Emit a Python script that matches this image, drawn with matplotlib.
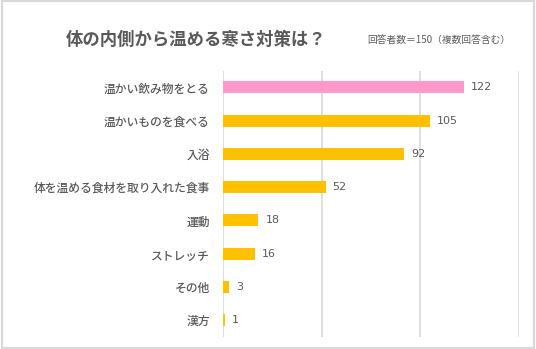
import matplotlib.pyplot as plt
from matplotlib.patches import Rectangle

plt.rcParams['font.family'] = ['Noto Sans CJK JP', 'DejaVu Sans']

categories = ['温かい飲み物をとる', '温かいものを食べる', '入浴', '体を温める食材を取り入れた食事',
              '運動', 'ストレッチ', 'その他', '漢方']
counts = [122, 105, 92, 52, 18, 16, 3, 1]
bar_colors = ['#FF99CC'] + ['#FFC000'] * 7

title = '体の内側から温める寒さ対策は？'
note = '回答者数＝150（複数回答含む）'
text_gray = '#595959'

fig = plt.figure(figsize=(5.36, 3.49), dpi=100)
ax = fig.add_axes([0.416, 0.035, 0.552, 0.762])

y = list(range(len(categories)))
ax.barh(y, counts, height=0.36, color=bar_colors, zorder=3)
ax.set_ylim(len(categories) - 0.5, -0.5)
ax.set_xlim(0, 150)
ax.set_xticks([0, 50, 100, 150])
ax.xaxis.grid(True, color='#D9D9D9', linewidth=1.2, zorder=0)
ax.tick_params(axis='x', bottom=False, labelbottom=False)
ax.tick_params(axis='y', left=False, pad=6)
ax.set_yticks(y)
ax.set_yticklabels(categories, fontsize=8.5, color=text_gray, fontweight='medium')
for side in ['top', 'right', 'bottom', 'left']:
    ax.spines[side].set_visible(False)

for i, v in enumerate(counts):
    ax.text(v + 3.5, i, str(v), va='center', ha='left', fontsize=8,
            color=text_gray, family=['DejaVu Sans'])

fig.text(0.123, 0.884, title, fontsize=12.5, fontweight='bold', color=text_gray,
         va='center', ha='left')
fig.text(0.953, 0.884, note, fontsize=7, color=text_gray, va='center', ha='right')

fig.patches.append(Rectangle((0.003, 0.004), 0.994, 0.992, transform=fig.transFigure,
                             fill=False, edgecolor='#D9D9D9', linewidth=1.5))

fig.savefig('out.png', dpi=100)
